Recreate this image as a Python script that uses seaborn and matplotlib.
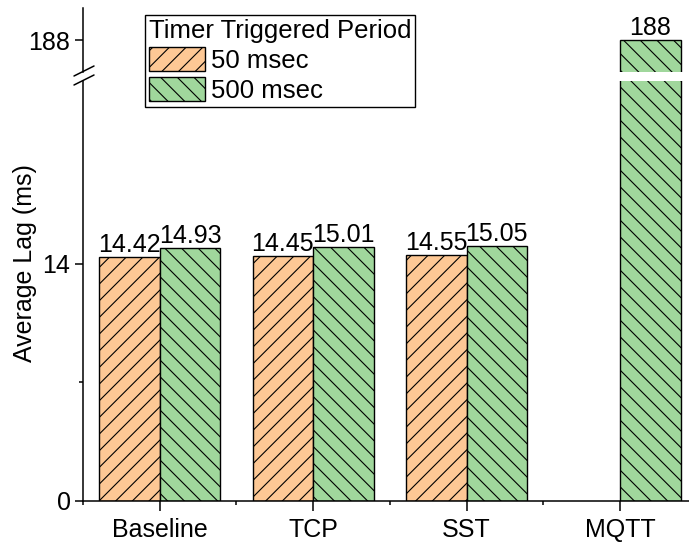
import numpy as np
import pandas as pd
import matplotlib
matplotlib.use('Agg')
import matplotlib.pyplot as plt
from matplotlib.patches import Patch
from matplotlib.lines import Line2D
from matplotlib.ticker import FixedLocator
import seaborn as sns

# data
protocols = ['Baseline', 'TCP', 'SST', 'MQTT']
periods = ['50 msec', '500 msec']
lag_50 = [14.42, 14.45, 14.55, np.nan]   # no 50 msec bar for MQTT
lag_500 = [14.93, 15.01, 15.05, 188]

colors = {'50 msec': '#FDC895', '500 msec': '#A0D79C'}
hatches = {'50 msec': '//', '500 msec': '\\\\'}

df = pd.DataFrame({
    'Protocol': protocols * 2,
    'Period': ['50 msec'] * 4 + ['500 msec'] * 4,
    'Lag': lag_50 + lag_500,
})

sns.set_style('ticks')
plt.rcParams['font.family'] = ['Liberation Sans', 'DejaVu Sans']
plt.rcParams['font.size'] = 18
plt.rcParams['text.color'] = 'black'
plt.rcParams['axes.labelcolor'] = 'black'
plt.rcParams['xtick.color'] = 'black'
plt.rcParams['ytick.color'] = 'black'
plt.rcParams['hatch.linewidth'] = 0.8
plt.rcParams['hatch.color'] = 'black'

W, H = 689, 544
fig = plt.figure(figsize=(W / 100, H / 100), dpi=100)
# lower segment: y 81..501 px, upper segment: y 8..72 px
ax_lo = fig.add_axes([83 / W, (H - 501) / H, 1 - 83 / W, 420 / H])
ax_hi = fig.add_axes([83 / W, (H - 72) / H, 1 - 83 / W, 64 / H])

for ax in (ax_lo, ax_hi):
    sns.barplot(data=df, x='Protocol', y='Lag', hue='Period', order=protocols,
                hue_order=periods, palette=colors, saturation=1, width=0.79, gap=0,
                edgecolor='black', linewidth=1.0, errorbar=None,
                legend=False, ax=ax)
    for cont, per in zip(ax.containers, periods):
        for bar in cont:
            bar.set_hatch(hatches[per])
    ax.set_xlim(-0.5, 3.45)
    ax.set_xlabel('')
    ax.set_ylabel('')
    for s in ('top', 'right'):
        ax.spines[s].set_visible(False)
    for s in ('left', 'bottom'):
        ax.spines[s].set_linewidth(1.1)
        ax.spines[s].set_color('black')
    ax.tick_params(axis='y', which='major', length=6, width=1.1,
                   colors='black', labelsize=18, pad=3)
    ax.tick_params(axis='x', which='major', length=7, width=1.1,
                   colors='black', labelsize=18, pad=5)
    ax.tick_params(axis='both', which='minor', length=3, width=1.1, colors='black')

# lower segment
ax_lo.set_ylim(0, 24.8)
ax_lo.set_yticks([0, 14])
ax_lo.yaxis.set_minor_locator(FixedLocator([7]))
ax_lo.xaxis.set_minor_locator(FixedLocator([-0.5, 0.5, 1.5, 2.5]))
for cont in ax_lo.containers:
    labs = ['' if (not np.isfinite(v) or v > 24) else f'{v:.2f}' for v in cont.datavalues]
    ax_lo.bar_label(cont, labels=labs, padding=0, fontsize=18, color='black')

# upper segment
ax_hi.set_ylim(186.1, 189.9)
ax_hi.set_yticks([188])
ax_hi.spines['bottom'].set_visible(False)
ax_hi.tick_params(axis='x', which='both', bottom=False, labelbottom=False)
for cont in ax_hi.containers:
    labs = [f'{v:.0f}' if (np.isfinite(v) and v > 100) else '' for v in cont.datavalues]
    ax_hi.bar_label(cont, labels=labs, padding=0, fontsize=18, color='black')

fig.text(25 / W, 1 - 263 / H, 'Average Lag (ms)', rotation=90, ha='center',
         va='center', fontsize=18, color='black')

# break marks on the y axis
for yb in (71, 80):
    fig.add_artist(Line2D([74 / W, 94 / W], [1 - (yb + 5) / H, 1 - (yb - 5) / H],
                          transform=fig.transFigure, color='black', linewidth=1.1))

handles = [Patch(facecolor=colors[p], edgecolor='black', hatch=hatches[p], linewidth=1.0)
           for p in periods]
leg = fig.legend(handles, periods, title='Timer Triggered Period', loc='upper left',
                 bbox_to_anchor=(145 / W, 1 - 15 / H), fontsize=18.5, title_fontsize=18.5,
                 frameon=True, fancybox=False, edgecolor='black', framealpha=1,
                 handlelength=2.2, handleheight=1.1, labelspacing=0.15,
                 handletextpad=0.2, borderpad=0.15, borderaxespad=0, alignment='left')
leg.get_frame().set_linewidth(1.0)

fig.savefig('out.png', dpi=100)
